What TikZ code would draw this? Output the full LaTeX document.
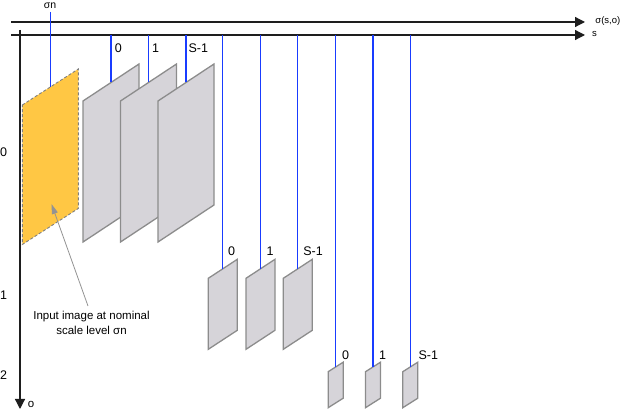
\documentclass[tikz,border=0pt]{standalone}
\usepackage{fontspec}
\setmainfont{Liberation Sans}
\usetikzlibrary{arrows.meta}
\definecolor{planegray}{RGB}{214,212,217}
\definecolor{planeedge}{RGB}{140,140,140}
\definecolor{inyellow}{RGB}{255,199,68}
\definecolor{scaleblue}{RGB}{25,60,255}
\definecolor{axisblack}{RGB}{30,30,30}
\newcommand\drawplane[7]{% #1 style, #2 name, #3 x, #4 y, #5 w, #6 skew, #7 h
  \draw[#1] (#3,#4) -- ++(#5,-#6) -- ++(0,#7) -- ++(-#5,#6) -- cycle;
  \coordinate (#2) at (#3+#5/2,#4-#6/2);
}
\tikzset{
  axis/.style={draw=axisblack,line width=1.2pt,-{Triangle[length=10pt,width=10pt]}},
  scaleline/.style={draw=scaleblue,line width=1.3pt},
  grayplane/.style={fill=planegray,draw=planeedge,line width=1.3pt,line join=miter},
  inputplane/.style={fill=inyellow,draw=gray,dashed,line width=0.9pt,dash pattern=on 3pt off 2pt},
  lbl/.style={inner sep=0pt,font=\fontsize{12.5}{14}\selectfont},
  axlbl/.style={inner sep=0pt,font=\fontsize{9.5}{11}\selectfont},
  annot/.style={draw=gray!85,line width=0.8pt,-{Triangle[length=10pt,width=6pt]}}
}
\begin{document}
\begin{tikzpicture}[x=1pt,y=-1pt]
\useasboundingbox (0,0) rectangle (622,411);
% axes
\coordinate (sigA) at (11,22);
\coordinate (sigB) at (585,22);
\coordinate (sA) at (11,35);
\coordinate (sB) at (585,35);
\coordinate (oA) at (20,30);
\coordinate (oB) at (20,409);
\draw[axis] (sigA) -- (sigB);
\draw[axis] (sA) -- (sB);
\draw[axis] (oA) -- (oB);
\node[axlbl,anchor=east] (siglbl) at (620.5,21) {σ(s,o)};
\node[axlbl,anchor=west] (slbl) at (592,34) {s};
\node[axlbl,font=\fontsize{11.5}{12}\selectfont] (olbl) at (31,404) {o};
\node[lbl] (o0) at (3.5,152) {0};
\node[lbl] (o1) at (3.5,295) {1};
\node[lbl] (o2) at (3.5,375) {2};
% input image
\drawplane{inputplane}{pin}{22.3}{105}{56}{36}{139.5}
\coordinate (sn) at (50.3,12);
\draw[scaleline] (sn) -- (pin);
\node[axlbl,font=\fontsize{10.5}{12}\selectfont] (snlbl) at (50,5.5) {σn};
% octave 0
\drawplane{grayplane}{p00}{83}{101}{56}{37}{141}
\drawplane{grayplane}{p01}{120.5}{101}{56}{37}{141}
\drawplane{grayplane}{p02}{158}{101}{56}{37}{141}
% octave 1
\drawplane{grayplane}{p10}{208.3}{278.3}{29}{19}{71}
\drawplane{grayplane}{p11}{246}{278.3}{29}{19}{71}
\drawplane{grayplane}{p12}{283.3}{278.3}{29}{19}{71}
% octave 2
\drawplane{grayplane}{p20}{328.2}{371.7}{15}{9.5}{36}
\drawplane{grayplane}{p21}{365.5}{371.7}{15}{9.5}{36}
\drawplane{grayplane}{p22}{402.8}{371.7}{15}{9.5}{36}
% scale lines
\foreach \p in {p00,p01,p02,p10,p11,p12,p20,p21,p22}{
  \path (\p |- sA) coordinate (top\p);
  \draw[scaleline] (top\p) -- (\p);
}
% labels
\node[lbl] (l00) at (118.3,48) {0};
\node[lbl] (l01) at (155.7,48) {1};
\node[lbl] (l02) at (198.3,48) {S-1};
\node[lbl] (l10) at (231.7,251.5) {0};
\node[lbl] (l11) at (270,251.5) {1};
\node[lbl] (l12) at (313,251.5) {S-1};
\node[lbl] (l20) at (345.7,355) {0};
\node[lbl] (l21) at (382.7,355) {1};
\node[lbl] (l22) at (428.3,355) {S-1};
% annotation
\node[inner sep=0pt,align=center,font=\fontsize{11.5}{15}\selectfont] (note) at (91.5,322.5) {Input image at nominal\\scale level σn};
\coordinate (noteTail) at (88,306);
\coordinate (noteTip) at (51.5,204);
\draw[annot] (noteTail) -- (noteTip);
\end{tikzpicture}
\end{document}
